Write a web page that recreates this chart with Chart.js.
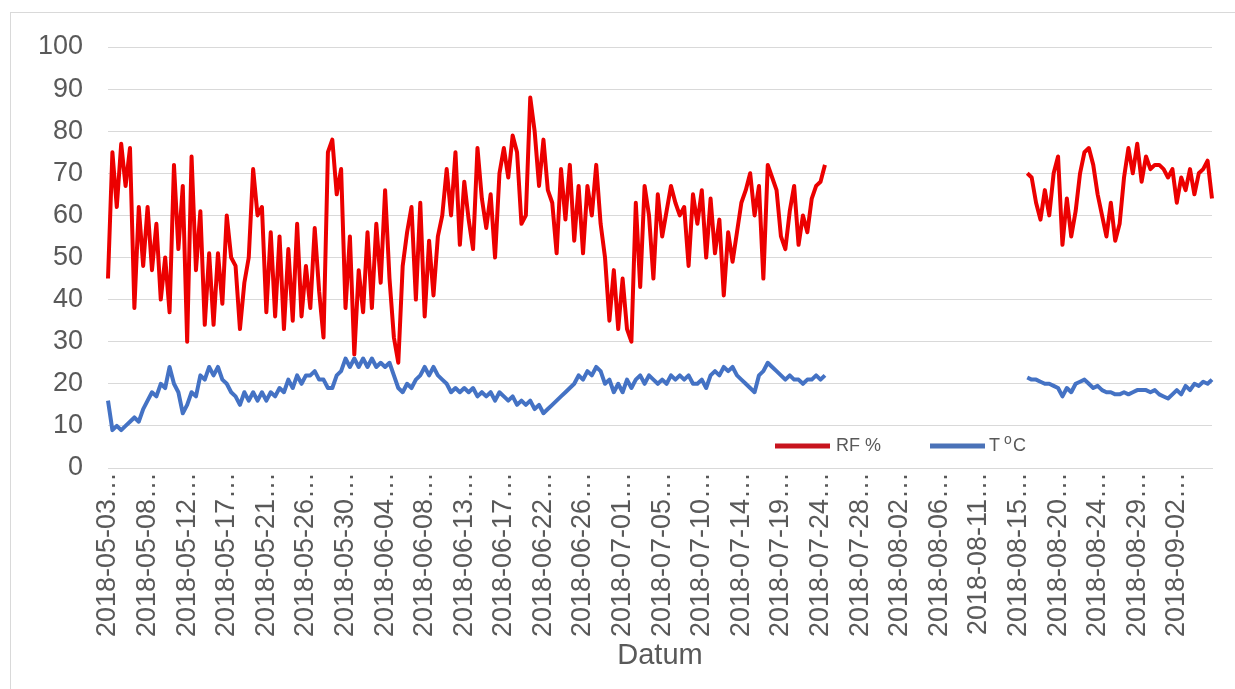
<!DOCTYPE html>
<html>
<head>
<meta charset="utf-8">
<title>RF och T</title>
<script src="https://cdn.jsdelivr.net/npm/chart.js@4.4.1/dist/chart.umd.min.js"></script>
<style>
  body { margin: 0; background: #fff; }
  #wrap { position: relative; width: 1235px; height: 689px; }
  #frame { position: absolute; left: 10px; top: 12px; width: 1300px; height: 700px;
           border-top: 1px solid #d9d9d9; border-left: 1px solid #d9d9d9; }
  canvas { position: absolute; left: 0; top: 0; }
</style>
</head>
<body>
<div id="wrap">
  <div id="frame"></div>
  <canvas id="chart" width="1235" height="689"></canvas>
</div>
<script>
// tick labels shown on the category axis (every 9th point)
const tickLabels = [
  "2018-05-03", "2018-05-08", "2018-05-12", "2018-05-17", "2018-05-21",
  "2018-05-26", "2018-05-30", "2018-06-04", "2018-06-08", "2018-06-13",
  "2018-06-17", "2018-06-22", "2018-06-26", "2018-07-01", "2018-07-05",
  "2018-07-10", "2018-07-14", "2018-07-19", "2018-07-24", "2018-07-28",
  "2018-08-02", "2018-08-06", "2018-08-11", "2018-08-15", "2018-08-20",
  "2018-08-24", "2018-08-29", "2018-09-02"
];
const pointsPerLabel = 9;
const totalPoints = 252;

// RF % before the logger gap (~2 per day)
const rfBeforeGap = [
  45, 75, 62, 77, 67, 76, 38, 62, 48, 62,
  47, 58, 40, 50, 37, 72, 52, 67, 30, 74,
  47, 61, 34, 51, 34, 51, 39, 60, 50, 48,
  33, 44, 50, 71, 60, 62, 37, 56, 36, 55,
  33, 52, 35, 58, 36, 48, 38, 57, 42, 31,
  75, 78, 65, 71, 38, 55, 27, 47, 37, 56,
  38, 58, 44, 66, 45, 31, 25, 48, 56, 62,
  40, 63, 36, 54, 41, 55, 60, 71, 60, 75,
  53, 68, 59, 52, 76, 64, 57, 65, 50, 70,
  76, 69, 79, 75, 58, 60, 88, 80, 67, 78,
  66, 63, 51, 71, 59, 72, 54, 67, 51, 67,
  60, 72, 58, 50, 35, 47, 33, 45, 33, 30,
  63, 43, 67, 60, 45, 65, 55, 61, 67, 63,
  60, 62, 48, 65, 58, 66, 50, 64, 51, 59,
  41, 56, 49, 56, 63, 66, 70, 60, 67, 45,
  72, 69, 66, 55, 52, 61, 67, 53, 60, 56,
  64, 67, 68, 72
];
// RF % after the gap
const rfAfterGap = [
  70, 69, 63, 59, 66, 60, 70, 74, 53, 64,
  55, 61, 70, 75, 76, 72, 65, 60, 55, 63,
  54, 58, 69, 76, 70, 77, 68, 74, 71, 72,
  72, 71, 69, 71, 63, 69, 66, 71, 65, 70,
  71, 73, 64
];

// T °C before the gap
const tBeforeGap = [
  16, 9, 10, 9, 10, 11, 12, 11, 14, 16,
  18, 17, 20, 19, 24, 20, 18, 13, 15, 18,
  17, 22, 21, 24, 22, 24, 21, 20, 18, 17,
  15, 18, 16, 18, 16, 18, 16, 18, 17, 19,
  18, 21, 19, 22, 20, 22, 22, 23, 21, 21,
  19, 19, 22, 23, 26, 24, 26, 24, 26, 24,
  26, 24, 25, 24, 25, 22, 19, 18, 20, 19,
  21, 22, 24, 22, 24, 22, 21, 20, 18, 19,
  18, 19, 18, 19, 17, 18, 17, 18, 16, 18,
  17, 16, 17, 15, 16, 15, 16, 14, 15, 13,
  14, 15, 16, 17, 18, 19, 20, 22, 21, 23,
  22, 24, 23, 20, 21, 18, 20, 18, 21, 19,
  21, 22, 20, 22, 21, 20, 21, 20, 22, 21,
  22, 21, 22, 20, 20, 21, 19, 22, 23, 22,
  24, 23, 24, 22, 21, 20, 19, 18, 22, 23,
  25, 24, 23, 22, 21, 22, 21, 21, 20, 21,
  21, 22, 21, 22
];
// T °C after the gap
const tAfterGap = [
  21.5, 21, 21, 20.5, 20, 20, 19.5, 19, 17, 19,
  18, 20, 20.5, 21, 20, 19, 19.5, 18.5, 18, 18,
  17.5, 17.5, 18, 17.5, 18, 18.5, 18.5, 18.5, 18, 18.5,
  17.5, 17, 16.5, 17.5, 18.5, 17.5, 19.5, 18.5, 20, 19.5,
  20.5, 20, 21
];

const gapLength = totalPoints - rfBeforeGap.length - rfAfterGap.length;
const gap = new Array(gapLength).fill(null);
const rfValues = rfBeforeGap.concat(gap, rfAfterGap);
const tValues = tBeforeGap.concat(gap, tAfterGap);

// one category per point, only every 9th carries a visible label
const categories = [];
for (let i = 0; i < totalPoints; i++) {
  const k = i / pointsPerLabel;
  categories.push(Number.isInteger(k) && k < tickLabels.length ? tickLabels[k] + "\u2026" : "");
}

const textColor = "#595959";
const gridColor = "#d9d9d9";
const fontFamily = "'Liberation Sans', Arial, sans-serif";

// legend sits inside the plot, bottom right, like in Excel
const insideLegend = {
  id: "insideLegend",
  afterDraw(chart) {
    const ctx = chart.ctx;
    const y = 446;
    const items = [
      { x: 775, ds: chart.data.datasets[0] },
      { x: 930, ds: chart.data.datasets[1] }
    ];
    ctx.save();
    ctx.textBaseline = "middle";
    ctx.fillStyle = textColor;
    items.forEach(it => {
      ctx.strokeStyle = it.ds.legendColor;
      ctx.lineWidth = 5;
      ctx.beginPath();
      ctx.moveTo(it.x, y);
      ctx.lineTo(it.x + 55, y);
      ctx.stroke();
    });
    ctx.font = "18px " + fontFamily;
    ctx.fillText("RF %", 836, y);
    ctx.fillText("T", 989, y);
    ctx.font = "14px " + fontFamily;
    ctx.fillText("o", 1004, y - 6);
    ctx.font = "18px " + fontFamily;
    ctx.fillText("C", 1013, y);
    ctx.restore();
  }
};

new Chart(document.getElementById("chart"), {
  type: "line",
  data: {
    labels: categories,
    datasets: [
      {
        label: "RF %",
        data: rfValues,
        borderColor: "rgb(236,0,0)",
        legendColor: "rgb(200,20,30)",
        borderWidth: 4,
        pointRadius: 0,
        tension: 0,
        spanGaps: false,
        borderJoinStyle: "round"
      },
      {
        label: "T \u00b0C",
        data: tValues,
        borderColor: "#4472C4",
        legendColor: "#4a72b8",
        borderWidth: 4,
        pointRadius: 0,
        tension: 0,
        spanGaps: false,
        borderJoinStyle: "round"
      }
    ]
  },
  options: {
    responsive: false,
    animation: false,
    events: [],
    layout: { padding: { left: 0, right: 23, top: 47, bottom: 0 } },
    plugins: {
      legend: { display: false },
      tooltip: { enabled: false }
    },
    scales: {
      x: {
        grid: { display: false, drawTicks: false },
        border: { display: true, color: gridColor, width: 1 },
        ticks: {
          autoSkip: false,
          maxRotation: 90,
          minRotation: 90,
          padding: 4,
          color: textColor,
          font: { family: fontFamily, size: 27 },
          callback: (value, index) => categories[index]
        },
        title: {
          display: true,
          text: "Datum",
          color: textColor,
          font: { family: fontFamily, size: 29 },
          padding: { top: 0, bottom: 16 }
        },
        afterFit: scale => {
          scale.height = 221;
          scale.paddingLeft = 0;
          scale.paddingRight = 0;
        }
      },
      y: {
        min: 0,
        max: 100,
        ticks: {
          stepSize: 10,
          padding: 25,
          color: textColor,
          font: { family: fontFamily, size: 27 }
        },
        grid: { color: gridColor, lineWidth: 1, drawTicks: false },
        border: { display: false },
        afterFit: scale => { scale.width = 108; }
      }
    }
  },
  plugins: [insideLegend]
});
</script>
</body>
</html>
